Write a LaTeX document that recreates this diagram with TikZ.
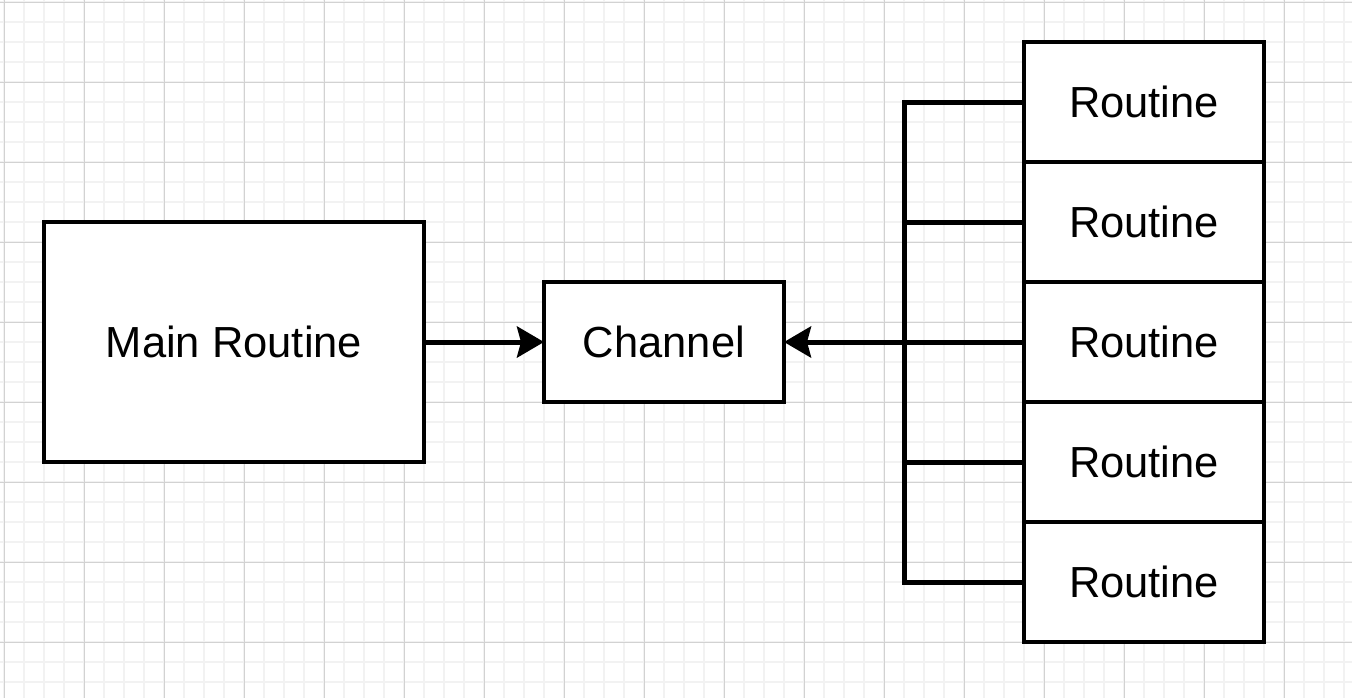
\documentclass[tikz,border=0pt]{standalone}
\usepackage{fontspec}
\setmainfont{Liberation Sans}
\usetikzlibrary{arrows.meta}
\definecolor{gridminor}{HTML}{F2F2F2}
\definecolor{gridmajor}{HTML}{D2D2D2}
\begin{document}
\begin{tikzpicture}[x=0.5pt,y=-0.5pt,
  box/.style={draw=black,line width=2pt,fill=white,inner sep=0pt,outer sep=0pt,
    font=\fontsize{21.75}{26}\selectfont},
  wide/.style={minimum width=190pt,minimum height=120pt},
  unit/.style={minimum width=120pt,minimum height=60pt},
  wire/.style={line width=2.5pt,draw=black},
  flow/.style={wire,-{Stealth[length=13.5pt,width=15.5pt,inset=2pt]}},
  minorline/.style={draw=gridminor,line width=1pt},
  majorline/.style={draw=gridmajor,line width=0.5pt}]
% canvas and grid
\fill[white] (0,0) rectangle (1352,698);
\useasboundingbox (0,0) rectangle (1352,698);
\foreach \x in {4,24,...,1344} \draw[minorline] (\x,0) -- (\x,698);
\foreach \y in {2,22,...,682} \draw[minorline] (0,\y) -- (1352,\y);
\foreach \x in {4,84,...,1284} \draw[majorline] (\x,0) -- (\x,698);
\foreach \y in {2,82,...,642} \draw[majorline] (0,\y) -- (1352,\y);

% boxes
\node[box,wide] (main) at (234,342) {Main Routine};
\node[box,unit] (chan) at (664,342) {Channel};
\foreach \i in {1,...,5}
  \node[box,unit] (r\i) at (1144,{102+120*(\i-1)}) {Routine};

% collecting bus from the routines
\coordinate (bus) at (904,342);
\draw[wire] (r1.west) -| (bus) |- (r5.west);
\draw[wire] (r2.west) -- (r2.west -| bus);
\draw[wire] (r4.west) -- (r4.west -| bus);

% arrows into the channel
\draw[flow] (main) -- (chan);
\draw[flow] (r3.west) -- (chan.east);
\end{tikzpicture}
\end{document}
